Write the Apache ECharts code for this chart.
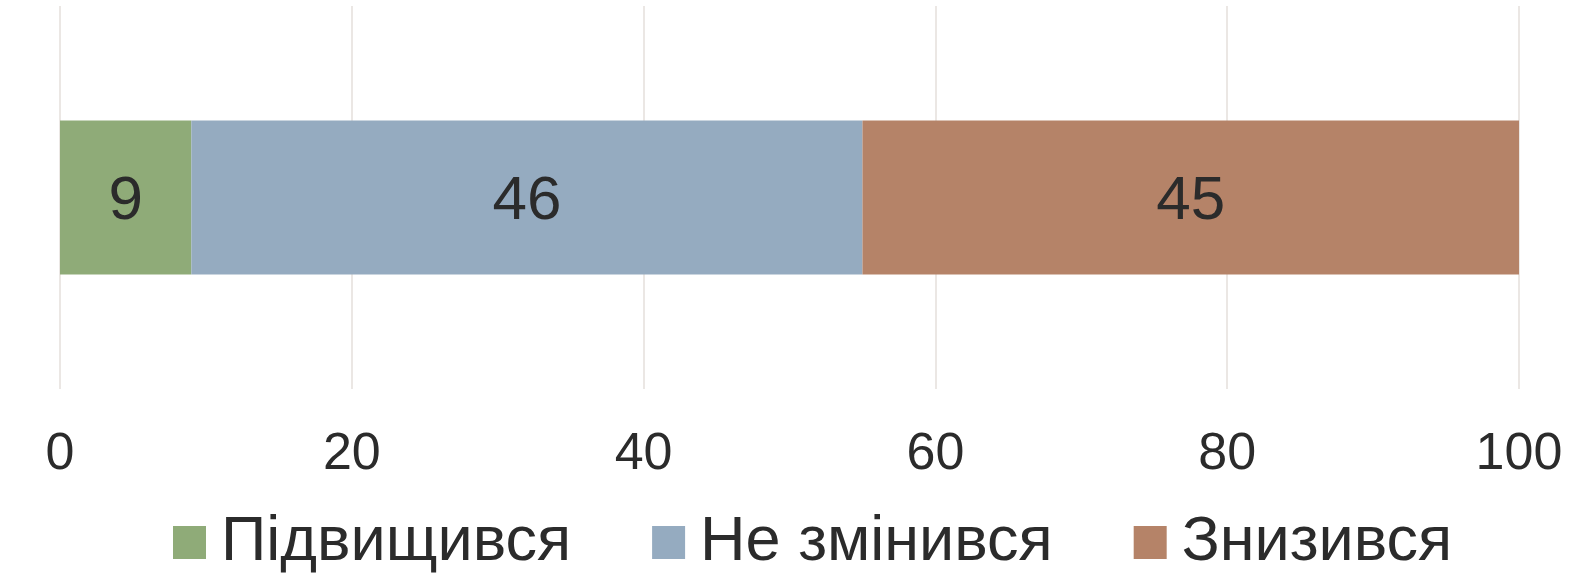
<!DOCTYPE html>
<html>
<head>
<meta charset="utf-8">
<script src="https://cdn.jsdelivr.net/npm/echarts@6/dist/echarts.min.js"></script>
<style>
html,body{margin:0;padding:0;background:#fff;}
#chart{width:1589px;height:574px;}
</style>
</head>
<body>
<div id="chart"></div>
<script>
const categories = ['Оцінка'];
const seriesNames = ['Підвищився', 'Не змінився', 'Знизився'];
const valuesUp = [9];
const valuesSame = [46];
const valuesDown = [45];
const tickLabels = ['0', '20', '40', '60', '80', '100'];
const colors = ['#8fab78', '#95abc0', '#b58368'];

const chart = echarts.init(document.getElementById('chart'));
const font = 'Liberation Sans, Arial, sans-serif';
const seriesData = [valuesUp, valuesSame, valuesDown];
chart.setOption({
  animation: false,
  textStyle: { fontFamily: font },
  grid: { left: 60, right: 70, top: 6, bottom: 185 },
  legend: {
    data: seriesNames,
    top: 506,
    left: 168,
    itemWidth: 33,
    itemHeight: 33,
    itemGap: 81,
    icon: 'rect',
    textStyle: { fontSize: 63, color: '#2b2b2b', fontFamily: font, padding: [0, 0, 0, 10] }
  },
  xAxis: {
    type: 'value',
    min: 0, max: 100, interval: 20,
    axisLine: { show: false },
    axisTick: { show: false },
    splitLine: { show: true, lineStyle: { color: '#ebe7e4', width: 2 } },
    axisLabel: {
      fontSize: 52, color: '#2b2b2b', fontFamily: font, margin: 40,
      formatter: function (v) { return tickLabels[Math.round(v / 20)]; }
    }
  },
  yAxis: {
    type: 'category',
    data: categories,
    show: false
  },
  series: seriesNames.map((name, i) => ({
    name: name,
    type: 'bar',
    stack: 'total',
    barWidth: '40.2%',
    data: seriesData[i],
    itemStyle: { color: colors[i] },
    label: { show: true, position: 'inside', offset: [0, 4], fontSize: 62, color: '#2b2b2b', fontFamily: font }
  }))
});
</script>
</body>
</html>
